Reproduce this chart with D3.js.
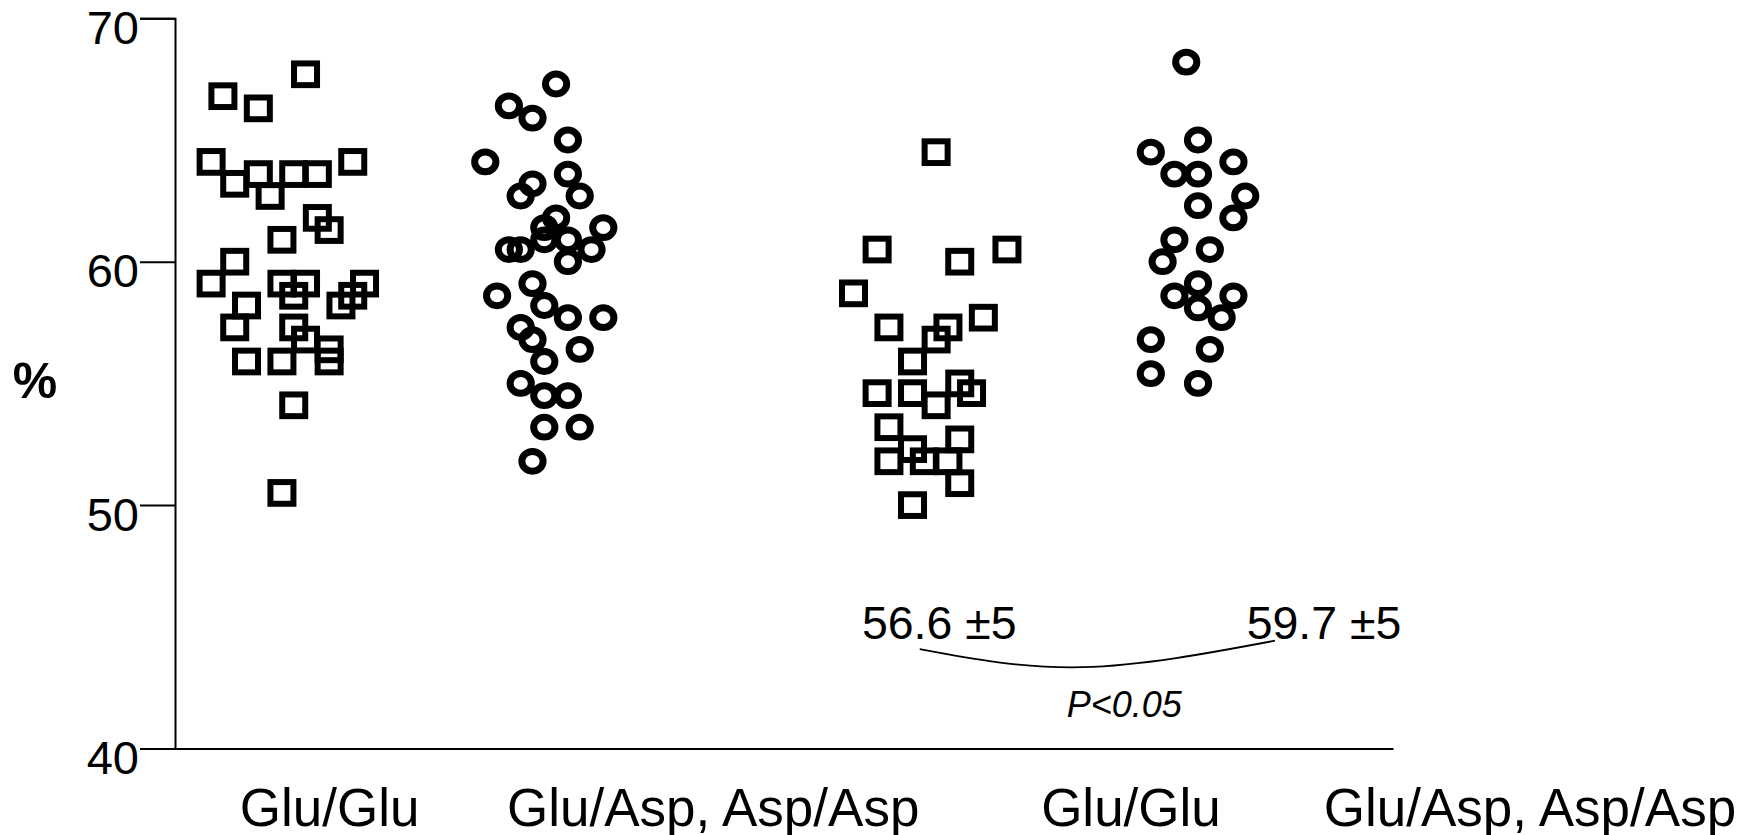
<!DOCTYPE html>
<html>
<head>
<meta charset="utf-8">
<script src="https://cdn.jsdelivr.net/npm/d3@7"></script>
<style>
  html, body { margin: 0; padding: 0; background: #fff; }
  svg { display: block; font-family: "Liberation Sans", Arial, sans-serif; }
</style>
</head>
<body>
<svg id="chart" width="1750" height="835"></svg>
<script>
// ---- data ----
const yTicks = [40, 50, 60, 70];
const groupNames = ["Glu/Glu", "Glu/Asp, Asp/Asp", "Glu/Glu", "Glu/Asp, Asp/Asp"];
const groupShapes = ["square", "circle", "square", "circle"];
const groupBase = [3.06, 26.29, 57.49, 82.68];   // x of jitter slot 0 (x units)
const labelPos = [13.1, 45.6, 81.0, 114.8];      // category label centres (x units)

// jitter slot and value (%) for each subject
const g1Slots = [8, 1, 4, 0, 2, 4, 5, 7, 9, 12, 9, 10, 6, 2, 0, 6, 7, 8, 13, 12, 11, 3, 2, 7, 8, 10, 10, 3, 6, 7, 6];
const g1Values = [67.7, 66.8, 66.3, 64.1, 63.2, 63.6, 62.7, 63.6, 63.6, 64.1, 61.8, 61.3, 60.9, 60.0, 59.1, 59.1, 58.6, 59.1, 59.1, 58.6, 58.2, 58.2, 57.3, 57.3, 56.8, 56.4, 55.9, 55.9, 55.9, 54.1, 50.5];

const g2Slots = [6, 2, 4, 7, 0, 7, 4, 3, 8, 6, 5, 10, 5, 7, 2, 3, 9, 7, 4, 1, 5, 7, 10, 3, 4, 8, 5, 3, 5, 7, 5, 8, 4];
const g2Values = [67.3, 66.4, 65.9, 65.0, 64.1, 63.6, 63.2, 62.7, 62.7, 61.8, 61.4, 61.4, 60.9, 60.9, 60.5, 60.5, 60.5, 60.0, 59.1, 58.6, 58.2, 57.7, 57.7, 57.3, 56.8, 56.4, 55.9, 55.0, 54.5, 54.5, 53.2, 53.2, 51.8];

const g3Slots = [7, 2, 13, 9, 0, 11, 3, 8, 7, 5, 2, 5, 7, 9, 10, 3, 9, 5, 3, 6, 8, 9, 5];
const g3Values = [64.5, 60.5, 60.5, 60.0, 58.7, 57.7, 57.3, 57.3, 56.8, 55.9, 54.6, 54.6, 54.1, 55.0, 54.6, 53.2, 52.7, 52.3, 51.8, 51.8, 51.8, 50.9, 50.0];

const g4Slots = [3, 4, 0, 7, 2, 4, 8, 4, 7, 2, 5, 1, 4, 2, 7, 4, 6, 0, 5, 0, 4];
const g4Values = [68.2, 65.0, 64.5, 64.1, 63.6, 63.6, 62.7, 62.3, 61.8, 60.9, 60.5, 60.0, 59.1, 58.6, 58.6, 58.1, 57.7, 56.8, 56.4, 55.4, 55.0];

// annotation: group means, comparison bracket, p value
const meanLabels = ["56.6 \u00b15", "59.7 \u00b15"];
const meanLabelX = [58.2, 90.8];
const meanLabelY = 44.49;
const bracketX = [63.1, 76.9, 93.2];
const bracketY = [44.08, 43.34, 44.43];
const pLabel = "P<0.05";
const pLabelX = 75.55;
const pLabelY = 41.31;

// ---- chart ----
const svg = d3.select("#chart");
const FONT = "'Liberation Sans', Arial, sans-serif";

const x = d3.scaleLinear().domain([0, 103.2]).range([175, 1393]);
const y = d3.scaleLinear().domain([40, 70]).range([748.5, 18.3]);

const allSlots = [g1Slots, g2Slots, g3Slots, g4Slots];
const allValues = [g1Values, g2Values, g3Values, g4Values];
const points = [];
allValues.forEach((vals, gi) => {
  vals.forEach((v, i) => {
    points.push({ group: gi, shape: groupShapes[gi], xv: groupBase[gi] + allSlots[gi][i], value: v });
  });
});

// y axis
const yAxis = svg.append("g")
  .attr("transform", `translate(${x(0)},0)`)
  .call(d3.axisLeft(y).tickValues(yTicks).tickSize(35).tickSizeOuter(35).tickPadding(1).tickFormat(d3.format("d")));
yAxis.selectAll("path, line").attr("stroke", "#000").attr("stroke-width", 2);
yAxis.selectAll("text")
  .attr("fill", "#000")
  .attr("dy", "0.53em")
  .style("font-size", "47px")
  .style("font-family", FONT);

// x axis (plain baseline)
const xAxis = svg.append("g")
  .attr("transform", `translate(0,${y(40)})`)
  .call(d3.axisBottom(x).tickValues([]).tickSizeOuter(0));
xAxis.select("path").attr("stroke", "#000").attr("stroke-width", 2);

// category labels
svg.append("g").selectAll("text")
  .data(groupNames)
  .join("text")
  .attr("x", (d, i) => x(labelPos[i]))
  .attr("y", y(40) + 77)
  .attr("text-anchor", "middle")
  .style("font-size", "53px")
  .style("font-family", FONT)
  .text(d => d);

// y label
svg.append("text")
  .attr("x", 35)
  .attr("y", y(55.06) + 16)
  .attr("text-anchor", "middle")
  .style("font-size", "50px")
  .style("font-weight", "bold")
  .style("font-family", FONT)
  .text("%");

// markers
const sqW = 23, sqH = 21.7;
svg.append("g").selectAll("rect")
  .data(points.filter(d => d.shape === "square"))
  .join("rect")
  .attr("x", d => x(d.xv) - sqW / 2)
  .attr("y", d => y(d.value) - sqH / 2)
  .attr("width", sqW)
  .attr("height", sqH)
  .attr("fill", "none")
  .attr("stroke", "#000")
  .attr("stroke-width", 6);

svg.append("g").selectAll("ellipse")
  .data(points.filter(d => d.shape === "circle"))
  .join("ellipse")
  .attr("cx", d => x(d.xv))
  .attr("cy", d => y(d.value))
  .attr("rx", 10.6)
  .attr("ry", 9.9)
  .attr("fill", "none")
  .attr("stroke", "#000")
  .attr("stroke-width", 7);

// means
svg.append("g").selectAll("text")
  .data(meanLabels)
  .join("text")
  .attr("x", (d, i) => x(meanLabelX[i]))
  .attr("y", y(meanLabelY))
  .style("font-size", "46.5px")
  .style("font-family", FONT)
  .text(d => d);

// bracket
const bracket = d3.line()
  .x(d => x(d[0]))
  .y(d => y(d[1]))
  .curve(d3.curveNatural);
svg.append("path")
  .datum(bracketX.map((bx, i) => [bx, bracketY[i]]))
  .attr("d", bracket)
  .attr("fill", "none")
  .attr("stroke", "#000")
  .attr("stroke-width", 1.8);

svg.append("text")
  .attr("x", x(pLabelX))
  .attr("y", y(pLabelY))
  .style("font-size", "36px")
  .style("font-style", "italic")
  .style("font-family", FONT)
  .text(pLabel);
</script>
</body>
</html>
